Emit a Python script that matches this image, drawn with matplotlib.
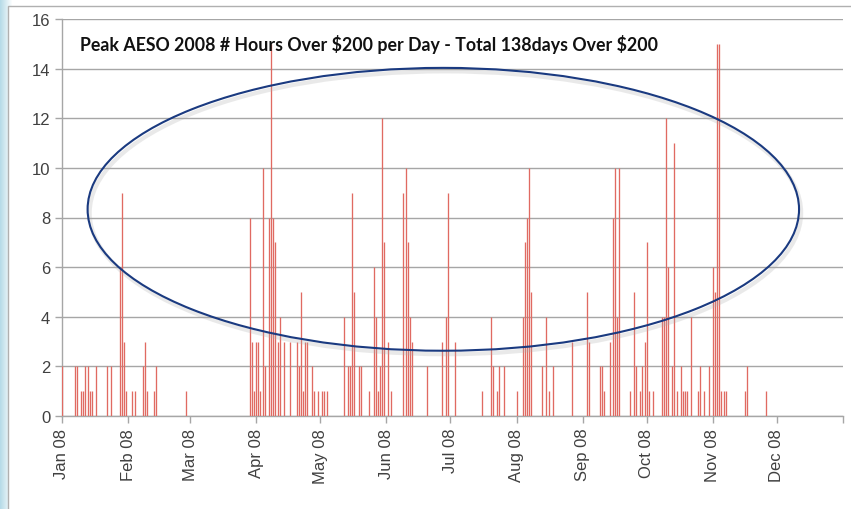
import numpy as np
import matplotlib
matplotlib.use("Agg")
import matplotlib.pyplot as plt
import matplotlib.dates as mdates
from matplotlib.patches import Ellipse, Rectangle
import matplotlib.patheffects as pe

# days since 1 Jan 2008 with hours over $200
days = [0, 6, 7, 9, 10, 11, 12, 13, 14, 16, 21, 23, 27, 28, 29, 30,
        33, 34, 38, 39, 40, 43, 44, 58,
        88, 89, 90, 91, 92, 93, 94, 95, 97, 98, 99, 100, 101, 102, 104, 107,
        110, 111, 112, 113, 114, 115, 117, 118, 120, 122, 123, 124,
        132, 134, 135, 136, 137, 139, 140, 144, 146, 147, 148, 149, 150, 151,
        153, 154, 160, 161, 162, 163, 164, 171, 178, 180, 181, 184,
        197, 201, 202, 204, 205, 207, 213, 216, 217, 218, 219, 220, 225, 227,
        228, 230, 239, 246, 247,
        252, 253, 254, 257, 258, 259, 260, 261, 266, 268, 269, 271, 272, 273,
        274, 275, 277, 281, 282, 283, 284, 286, 287, 288, 290, 291, 292, 293,
        295, 298, 299, 301, 303, 305, 306, 307, 308, 309, 310, 311, 320, 321, 330]
hours = [2, 2, 2, 1, 1, 2, 2, 1, 1, 2, 2, 2, 6, 9, 3, 1,
         1, 1, 2, 3, 1, 1, 2, 1,
         8, 3, 1, 3, 3, 1, 10, 2, 8, 15, 8, 7, 3, 4, 3, 3,
         3, 2, 5, 1, 3, 3, 2, 1, 1, 1, 1, 1,
         4, 2, 2, 9, 5, 2, 2, 1, 6, 4, 1, 2, 12, 7,
         3, 1, 9, 10, 7, 4, 3, 2, 3, 4, 9, 3,
         1, 4, 2, 1, 2, 2, 1, 4, 7, 8, 10, 5, 2, 4,
         1, 2, 3, 5, 3,
         2, 2, 1, 3, 8, 10, 4, 10, 1, 5, 2, 1, 2, 3,
         7, 1, 1, 4, 4, 12, 6, 2, 11, 1, 2, 1, 1, 1,
         4, 1, 2, 1, 2, 6, 5, 15, 15, 1, 1, 1, 1, 2, 1]

month_labels = ["Jan 08", "Feb 08", "Mar 08", "Apr 08", "May 08", "Jun 08",
                "Jul 08", "Aug 08", "Sep 08", "Oct 08", "Nov 08", "Dec 08", ""]
title = r"Peak AESO 2008 # Hours Over \$200 per Day - Total 138days Over \$200"

start = np.datetime64("2008-01-01")
dates = start + np.array(days).astype("timedelta64[D]")
month_starts = np.arange("2008-01", "2009-02", dtype="datetime64[M]").astype("datetime64[D]")

fig = plt.figure(figsize=(8.51, 5.10), dpi=100)
fig.patch.set_facecolor("white")

# slide background: pale blue fading in from the left edge
bg = fig.add_axes([0, 0, 1, 1], zorder=-10)
gx = np.clip(np.linspace(0, 1, 851) / 0.014, 0, 1)
blue = np.array([0.72, 0.86, 0.91])
fade = np.tile(gx, (510, 1))
img = blue[None, None, :] * (1 - fade[:, :, None]) + fade[:, :, None]
bg.imshow(img, aspect="auto", extent=[0, 1, 0, 1])
bg.add_patch(Rectangle((8 / 851, -0.1), 1.1, 1.1 - 7 / 510, facecolor="white",
                       edgecolor="#b0b0b0", lw=1.0, transform=bg.transAxes))
bg.set_xlim(0, 1)
bg.set_ylim(0, 1)
bg.axis("off")

ax = fig.add_axes([62 / 851, 1 - 417 / 510, (843 - 62) / 851, (417 - 20) / 510])
ax.set_facecolor("none")

ax.vlines(dates, 0, hours, color="#e06a62", lw=0.95, zorder=3)

ax.set_ylim(0, 16)
ax.set_yticks(range(0, 17, 2))
ax.set_xlim(month_starts[0], month_starts[-1])
ax.set_xticks(month_starts)
ax.set_xticklabels(month_labels, rotation=90)

ax.grid(axis="y", color="#a6a6a6", lw=1.0, zorder=0)
ax.grid(axis="x", visible=False)
for s in ["top", "right"]:
    ax.spines[s].set_visible(False)
for s in ["left", "bottom"]:
    ax.spines[s].set_color("#a6a6a6")
    ax.spines[s].set_linewidth(1.0)
ax.tick_params(axis="both", colors="#a6a6a6", length=5, width=1.0,
               labelcolor="#404040", labelsize=12)
for lab in ax.get_xticklabels() + ax.get_yticklabels():
    lab.set_family("Liberation Sans")

# highlight ellipse
centre = mdates.date2num(start) + 178.7
ell = Ellipse((centre, 8.33), 333.4, 11.4, fill=False, edgecolor="#1a3a80",
              lw=1.5, zorder=5)
ell.set_path_effects([pe.SimpleLineShadow(offset=(1.5, -2.5), shadow_color="#aaaaaa",
                                          alpha=0.25, linewidth=3),
                      pe.Normal()])
ax.add_patch(ell)

fig.text(80 / 851, 1 - 51 / 510, title, fontsize=12.8, fontweight="bold",
         family="Lato", color="#111111", va="baseline", ha="left")

fig.savefig("out.png", dpi=100)
